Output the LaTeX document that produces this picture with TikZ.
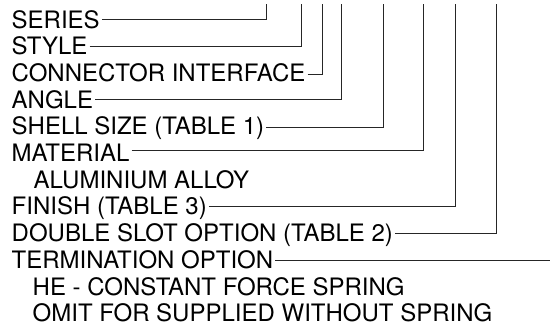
\documentclass[tikz,border=0pt]{standalone}
\usepackage{fontspec}
\setmainfont{TeX Gyre Heros}
\begin{document}
\begin{tikzpicture}[x=1pt,y=-1pt,
  lbl/.style={anchor=base west,inner sep=0pt,text height=16.8pt,text depth=0pt,
    font=\fontsize{24}{26}\selectfont},
  lead/.style={line width=0.9pt,draw=black!85}]
\useasboundingbox (0,0) rectangle (550,325);
\node[lbl] (n1)  at (11.5,28.0)  {SERIES};
\node[lbl] (n2)  at (11.5,54.7)  {STYLE};
\node[lbl] (n3)  at (11.5,81.4)  {CONNECTOR INTERFACE};
\node[lbl] (n4)  at (11.5,108.1) {ANGLE};
\node[lbl] (n5)  at (11.5,134.8) {SHELL SIZE (TABLE 1)};
\node[lbl] (n6)  at (11.5,161.5) {MATERIAL};
\node[lbl] (n7)  at (33.5,188.2) {ALUMINIUM ALLOY};
\node[lbl] (n8)  at (11.5,214.9) {FINISH (TABLE 3)};
\node[lbl] (n9)  at (11.5,241.6) {DOUBLE SLOT OPTION (TABLE 2)};
\node[lbl] (n10) at (11.5,268.3) {TERMINATION OPTION};
\node[lbl] (n11) at (32.5,295.0) {HE - CONSTANT FORCE SPRING};
\node[lbl] (n12) at (32.5,321.5) {OMIT FOR SUPPLIED WITHOUT SPRING};
\coordinate (t1) at (266.7,3.5);
\coordinate (t2) at (301.7,3.5);
\coordinate (t3) at (322.7,3.5);
\coordinate (t4) at (341.7,3.5);
\coordinate (t5) at (383.3,3.5);
\coordinate (t6) at (423.8,3.5);
\coordinate (t8) at (455.0,3.5);
\coordinate (t9) at (496.7,3.5);
\coordinate (e10) at (550,260.7);
\draw[lead] ([xshift=2pt]n1.east) -| (t1);
\draw[lead] ([xshift=2pt]n2.east) -| (t2);
\draw[lead] ([xshift=2pt,yshift=-1.5pt]n3.east) -| (t3);
\draw[lead] ([xshift=2pt]n4.east) -| (t4);
\draw[lead] ([xshift=2pt,yshift=-1.5pt]n5.east) -| (t5);
\draw[lead] ([xshift=2pt,yshift=3pt]n6.east) -| (t6);
\draw[lead] ([xshift=2pt]n8.east) -| (t8);
\draw[lead] ([xshift=2pt]n9.east) -| (t9);
\draw[lead] ([xshift=2pt]n10.east |- e10) -- (e10);
\end{tikzpicture}
\end{document}
